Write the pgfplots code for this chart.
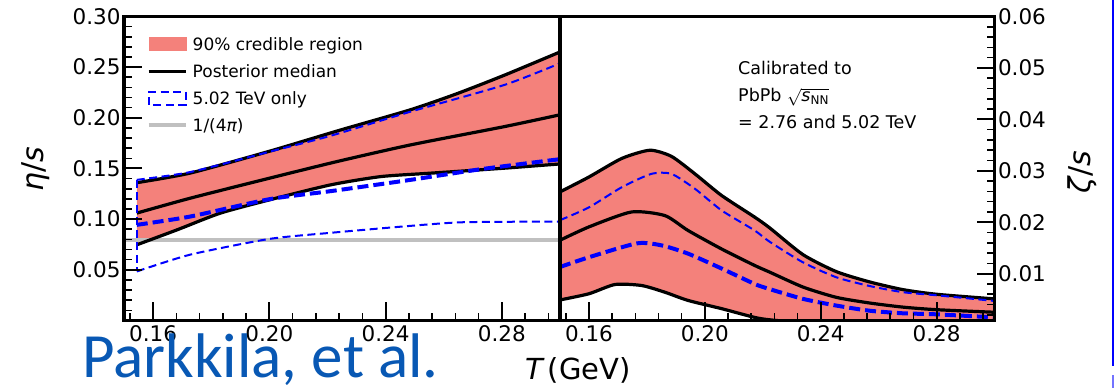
\documentclass[border=0pt]{standalone}
\usepackage{pgfplots}
\pgfplotsset{compat=1.18}
\usepgfplotslibrary{fillbetween}
\usepackage{fontspec}
\setmainfont{DejaVu Sans}
\newfontfamily\carlito{Carlito}
\definecolor{bandred}{RGB}{244,129,123}
\definecolor{onlyblue}{RGB}{0,0,255}
\definecolor{lgray}{RGB}{192,192,192}
\definecolor{parkblue}{RGB}{8,88,180}
\pgfplotsset{
 panel/.style={
  scale only axis, height=304pt, xmin=0.15, xmax=0.30,
  scaled ticks=false,
  axis on top, axis line style={line width=3.2pt},
  tick align=inside, major tick length=18pt, minor tick length=7.5pt,
  every major tick/.append style={line width=2pt, black},
  every minor tick/.append style={line width=1.6pt, black},
  xtick={0.16,0.20,0.24,0.28}, xticklabels={0.16,0.20,0.24,0.28},
  minor xtick={0.152,0.168,0.176,0.184,0.192,0.208,0.216,0.224,0.232,0.248,0.256,0.264,0.272,0.288,0.296},
  xtick pos=left,
  ticklabel style={font=\fontsize{21.5}{24}\selectfont},
  xticklabel style={yshift=-2pt},
  /pgf/number format/assume math mode=true,
 },
 blk/.style={black, line width=3.2pt, line join=round, smooth, tension=0.4},
 thinb/.style={onlyblue, line width=2pt, dash pattern=on 8pt off 4.5pt, smooth, tension=0.4},
 thickb/.style={onlyblue, line width=4pt, dash pattern=on 11pt off 5pt, smooth, tension=0.4},
 hid/.style={draw=none, smooth, tension=0.4, forget plot},
}
\begin{document}
\begin{tikzpicture}[x=1pt,y=1pt]

% ---------------- left panel: eta/s ----------------
\begin{axis}[panel, at={(124pt,67.5pt)}, anchor=south west, width=436pt,
  ymin=0, ymax=0.30,
  ytick={0.05,0.10,0.15,0.20,0.25,0.30},
  yticklabels={0.05,0.10,0.15,0.20,0.25,0.30},
  minor ytick={0.01,0.02,0.03,0.04,0.06,0.07,0.08,0.09,0.11,0.12,0.13,0.14,0.16,0.17,0.18,0.19,0.21,0.22,0.23,0.24,0.26,0.27,0.28,0.29},
  ytick pos=left,
  legend cell align=left,
  legend style={at={(0,1)}, anchor=north west, xshift=22.5pt, yshift=-15.5pt,
    draw=none, fill=none, inner sep=0pt, font=\fontsize{17}{20}\selectfont,
    row sep=3pt, column sep=5pt,
    nodes={inner xsep=0pt, inner ysep=3pt, text height=15pt, text depth=3pt}},
]
\addlegendimage{legend image code/.code={\fill[bandred] (0pt,-6pt) rectangle (37pt,6.5pt);}}
\addlegendentry{90\% credible region}
\addlegendimage{legend image code/.code={\draw[black,line width=3.2pt] (0pt,0pt) -- (37pt,0pt);}}
\addlegendentry{Posterior median}
\addlegendimage{legend image code/.code={\draw[onlyblue,line width=2pt,dash pattern=on 8pt off 4.5pt] (0pt,-6.5pt) rectangle (37pt,6.5pt);}}
\addlegendentry{5.02 TeV only}
\addlegendimage{legend image code/.code={\draw[lgray,line width=4pt] (0pt,0pt) -- (37pt,0pt);}}
\addlegendentry{1/(4{\itshape π})}

\addplot[lgray, line width=4pt, forget plot] coordinates {(0.15,0.0796) (0.30,0.0796)};

\addplot[hid, name path=eu] coordinates {(0.1544,0.136) (0.1728,0.1455) (0.20,0.167) (0.2245,0.188) (0.2486,0.208) (0.2647,0.224) (0.2808,0.242) (0.30,0.265)};
\addplot[hid, name path=el] coordinates {(0.1544,0.0747) (0.1682,0.0894) (0.1831,0.1059) (0.20,0.119) (0.221,0.1338) (0.2383,0.142) (0.2555,0.1454) (0.2808,0.1503) (0.30,0.1545)};
\addplot[bandred, forget plot] fill between[of=eu and el];

\addplot[blk, forget plot] coordinates {(0.1544,0.136) (0.1728,0.1455) (0.20,0.167) (0.2245,0.188) (0.2486,0.208) (0.2647,0.224) (0.2808,0.242) (0.30,0.265)};
\addplot[blk, forget plot] coordinates {(0.1544,0.106) (0.1728,0.1207) (0.20,0.1404) (0.2235,0.157) (0.2486,0.1733) (0.2808,0.1913) (0.30,0.203)};
\addplot[blk, forget plot] coordinates {(0.1544,0.0747) (0.1682,0.0894) (0.1831,0.1059) (0.20,0.119) (0.221,0.1338) (0.2383,0.142) (0.2555,0.1454) (0.2808,0.1503) (0.30,0.1545)};

\addplot[thinb, forget plot] coordinates {(0.1544,0.1388) (0.1728,0.1465) (0.20,0.1665) (0.221,0.1822) (0.2486,0.2061) (0.2808,0.2324) (0.30,0.2538)};
\addplot[thinb, forget plot] coordinates {(0.1544,0.0484) (0.1728,0.065) (0.20,0.0805) (0.221,0.0865) (0.2486,0.0934) (0.267,0.097) (0.30,0.0976)};
\addplot[thinb, sharp plot, forget plot] coordinates {(0.1544,0.1388) (0.1544,0.0484)};
\addplot[thickb, forget plot] coordinates {(0.1544,0.0944) (0.1728,0.1026) (0.20,0.1197) (0.222,0.128) (0.2486,0.1388) (0.2728,0.1493) (0.30,0.1592)};
\end{axis}

% ---------------- right panel: zeta/s ----------------
\begin{axis}[panel, at={(560pt,67.5pt)}, anchor=south west, width=434.5pt,
  ymin=0.0009, ymax=0.06,
  ytick={0.01,0.02,0.03,0.04,0.05,0.06},
  yticklabels={0.01,0.02,0.03,0.04,0.05,0.06},
  minor ytick={0.002,0.004,0.006,0.008,0.012,0.014,0.016,0.018,0.022,0.024,0.026,0.028,0.032,0.034,0.036,0.038,0.042,0.044,0.046,0.048,0.052,0.054,0.056,0.058},
  ytick pos=right, yticklabel pos=right,
]
\addplot[hid, name path=zu] coordinates {(0.150,0.0259) (0.160,0.0288) (0.1713,0.0324) (0.181,0.0340) (0.1885,0.0328) (0.1966,0.0294) (0.2058,0.0252) (0.2172,0.0210) (0.2224,0.0189) (0.2339,0.0137) (0.2454,0.0104) (0.2569,0.0084) (0.2684,0.0069) (0.28,0.0060) (0.30,0.0051)};
\addplot[hid, name path=zl] coordinates {(0.150,0.0049) (0.160,0.0061) (0.169,0.0079) (0.1782,0.0077) (0.1862,0.0064) (0.1942,0.0048) (0.2058,0.0032) (0.2172,0.0015) (0.223,0.0010) (0.24,0.0002) (0.27,-0.0005) (0.30,-0.001)};
\addplot[bandred] fill between[of=zu and zl];

\addplot[blk] coordinates {(0.150,0.0259) (0.160,0.0288) (0.1713,0.0324) (0.181,0.0340) (0.1885,0.0328) (0.1966,0.0294) (0.2058,0.0252) (0.2172,0.0210) (0.2224,0.0189) (0.2339,0.0137) (0.2454,0.0104) (0.2569,0.0084) (0.2684,0.0069) (0.28,0.0060) (0.30,0.0051)};
\addplot[blk] coordinates {(0.150,0.0165) (0.160,0.0191) (0.1747,0.0220) (0.1862,0.0213) (0.1942,0.0184) (0.2058,0.0148) (0.2172,0.0116) (0.2224,0.0103) (0.2339,0.0074) (0.2454,0.0054) (0.2569,0.0043) (0.2684,0.0035) (0.28,0.0030) (0.30,0.0025)};
\addplot[blk] coordinates {(0.150,0.0049) (0.160,0.0061) (0.169,0.0079) (0.1782,0.0077) (0.1862,0.0064) (0.1942,0.0048) (0.2058,0.0032) (0.2172,0.0015) (0.223,0.0010) (0.24,0.0002) (0.27,-0.0005) (0.30,-0.001)};

\addplot[thinb] coordinates {(0.150,0.0204) (0.160,0.0229) (0.1713,0.0268) (0.1815,0.0294) (0.1885,0.0294) (0.1966,0.0265) (0.2058,0.0223) (0.2172,0.0184) (0.2224,0.0162) (0.2339,0.0122) (0.2454,0.0093) (0.2569,0.0076) (0.2684,0.0064) (0.28,0.0058) (0.30,0.0047)};
\addplot[thickb] coordinates {(0.150,0.0113) (0.160,0.0132) (0.1766,0.0159) (0.1851,0.0155) (0.1942,0.0139) (0.2058,0.0110) (0.2172,0.0080) (0.2224,0.0070) (0.2339,0.0051) (0.2454,0.0038) (0.2569,0.0028) (0.2684,0.0023) (0.28,0.0021) (0.30,0.0015)};
\end{axis}

% ---------------- labels and annotations ----------------
\node[rotate=90, inner sep=0pt] at (36,219) {\fontsize{30}{32}\selectfont{\itshape η}/{\itshape s}};
\node[rotate=90, inner sep=0pt] at (1082,216) {\fontsize{30}{32}\selectfont{\itshape ζ}/{\itshape s}};
\node[anchor=base west, inner sep=0pt] at (525,8) {\fontsize{29}{32}\selectfont{\itshape T}\,(GeV)};
\node[anchor=base west, inner sep=0pt] at (738,313) {\fontsize{17.5}{20}\selectfont Calibrated to};
\node[anchor=base west, inner sep=0pt] at (738,286.3) {\fontsize{17.5}{20}\selectfont PbPb $\sqrt{\mbox{\itshape s}_{\mbox{\fontsize{12}{12}\selectfont NN}}}$};
\node[anchor=base west, inner sep=0pt] at (738,259.7) {\fontsize{17.5}{20}\selectfont = 2.76 and 5.02 TeV};
\node[anchor=base west, inner sep=0pt, text=parkblue] at (82,10) {\carlito\fontsize{63}{66}\selectfont Parkkila, et al.};
\fill[onlyblue] (1111.5,22) rectangle (1114,388);
\fill[onlyblue!55] (1111.5,0) rectangle (1114,13);
\pgfresetboundingbox
\path (0,0) rectangle (1114,388);
\end{tikzpicture}
\end{document}
